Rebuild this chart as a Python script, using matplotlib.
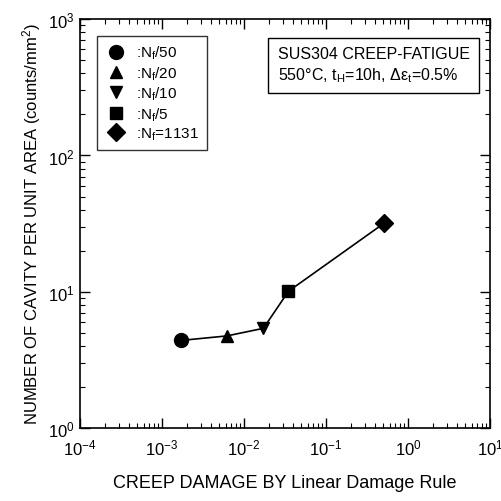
import matplotlib
matplotlib.use('Agg')
import matplotlib.pyplot as plt
from matplotlib.lines import Line2D
from matplotlib.ticker import LogLocator, NullFormatter

plt.rcParams['font.family'] = ['Liberation Sans', 'DejaVu Sans']
plt.rcParams['mathtext.fontset'] = 'custom'
plt.rcParams['mathtext.rm'] = 'Liberation Sans'
plt.rcParams['mathtext.it'] = 'Liberation Sans'

# data
damage = [1.7e-3, 6.2e-3, 1.73e-2, 3.5e-2, 0.51]
cavity = [4.4, 4.75, 5.4, 10.1, 31.8]
markers = ['o', '^', 'v', 's', 'D']
msizes = [10, 9, 9, 8.5, 9]
labels = [':N$_{\\rm f}$/50', ':N$_{\\rm f}$/20', ':N$_{\\rm f}$/10',
          ':N$_{\\rm f}$/5', ':N$_{\\rm f}$=1131']

fig = plt.figure(figsize=(5.02, 5.02), dpi=100)
ax = fig.add_axes([0.159, 0.145, 0.817, 0.815])

ax.plot(damage, cavity, 'k-', lw=1.2, zorder=2)
for x, y, m, s in zip(damage, cavity, markers, msizes):
    ax.plot(x, y, marker=m, color='k', ms=s, ls='none', zorder=3)

ax.set_xscale('log')
ax.set_yscale('log')
ax.set_xlim(1e-4, 10)
ax.set_ylim(1, 1000)
ax.xaxis.set_minor_locator(LogLocator(base=10, subs=range(2, 10)))
ax.yaxis.set_minor_locator(LogLocator(base=10, subs=range(2, 10)))
ax.xaxis.set_minor_formatter(NullFormatter())
ax.yaxis.set_minor_formatter(NullFormatter())
ax.tick_params(which='both', direction='in', top=True, right=True, labelsize=12, colors='k')
ax.tick_params(which='major', length=7, width=1)
ax.tick_params(which='minor', length=3.5, width=0.8)
ax.tick_params(axis='x', pad=7)
for sp in ax.spines.values():
    sp.set_linewidth(1.2)

ax.set_xlabel('CREEP DAMAGE BY Linear Damage Rule', fontsize=13, labelpad=12)
ax.set_ylabel('NUMBER OF CAVITY PER UNIT AREA (counts/mm$^2$)', fontsize=12, labelpad=4)

handles = [Line2D([], [], marker=m, color='k', ls='none', ms=s) for m, s in zip(markers, msizes)]
leg = ax.legend(handles, labels, loc='upper left', bbox_to_anchor=(0.041, 0.958),
                borderaxespad=0, fontsize=11, frameon=True, fancybox=False, edgecolor='k',
                handletextpad=0.5, labelspacing=0.2, borderpad=0.5, handlelength=1.6)
leg.get_frame().set_linewidth(1.0)

ax.text(0.483, 0.935, 'SUS304 CREEP-FATIGUE\n550\u00b0C, t$_{\\rm H}$=10h, \u0394\u03b5$_{\\rm t}$=0.5%',
        transform=ax.transAxes, fontsize=11.5, va='top', ha='left', linespacing=1.3,
        bbox=dict(boxstyle='square,pad=0.6', fc='white', ec='k', lw=1.0))

fig.savefig('out.png', dpi=100)
